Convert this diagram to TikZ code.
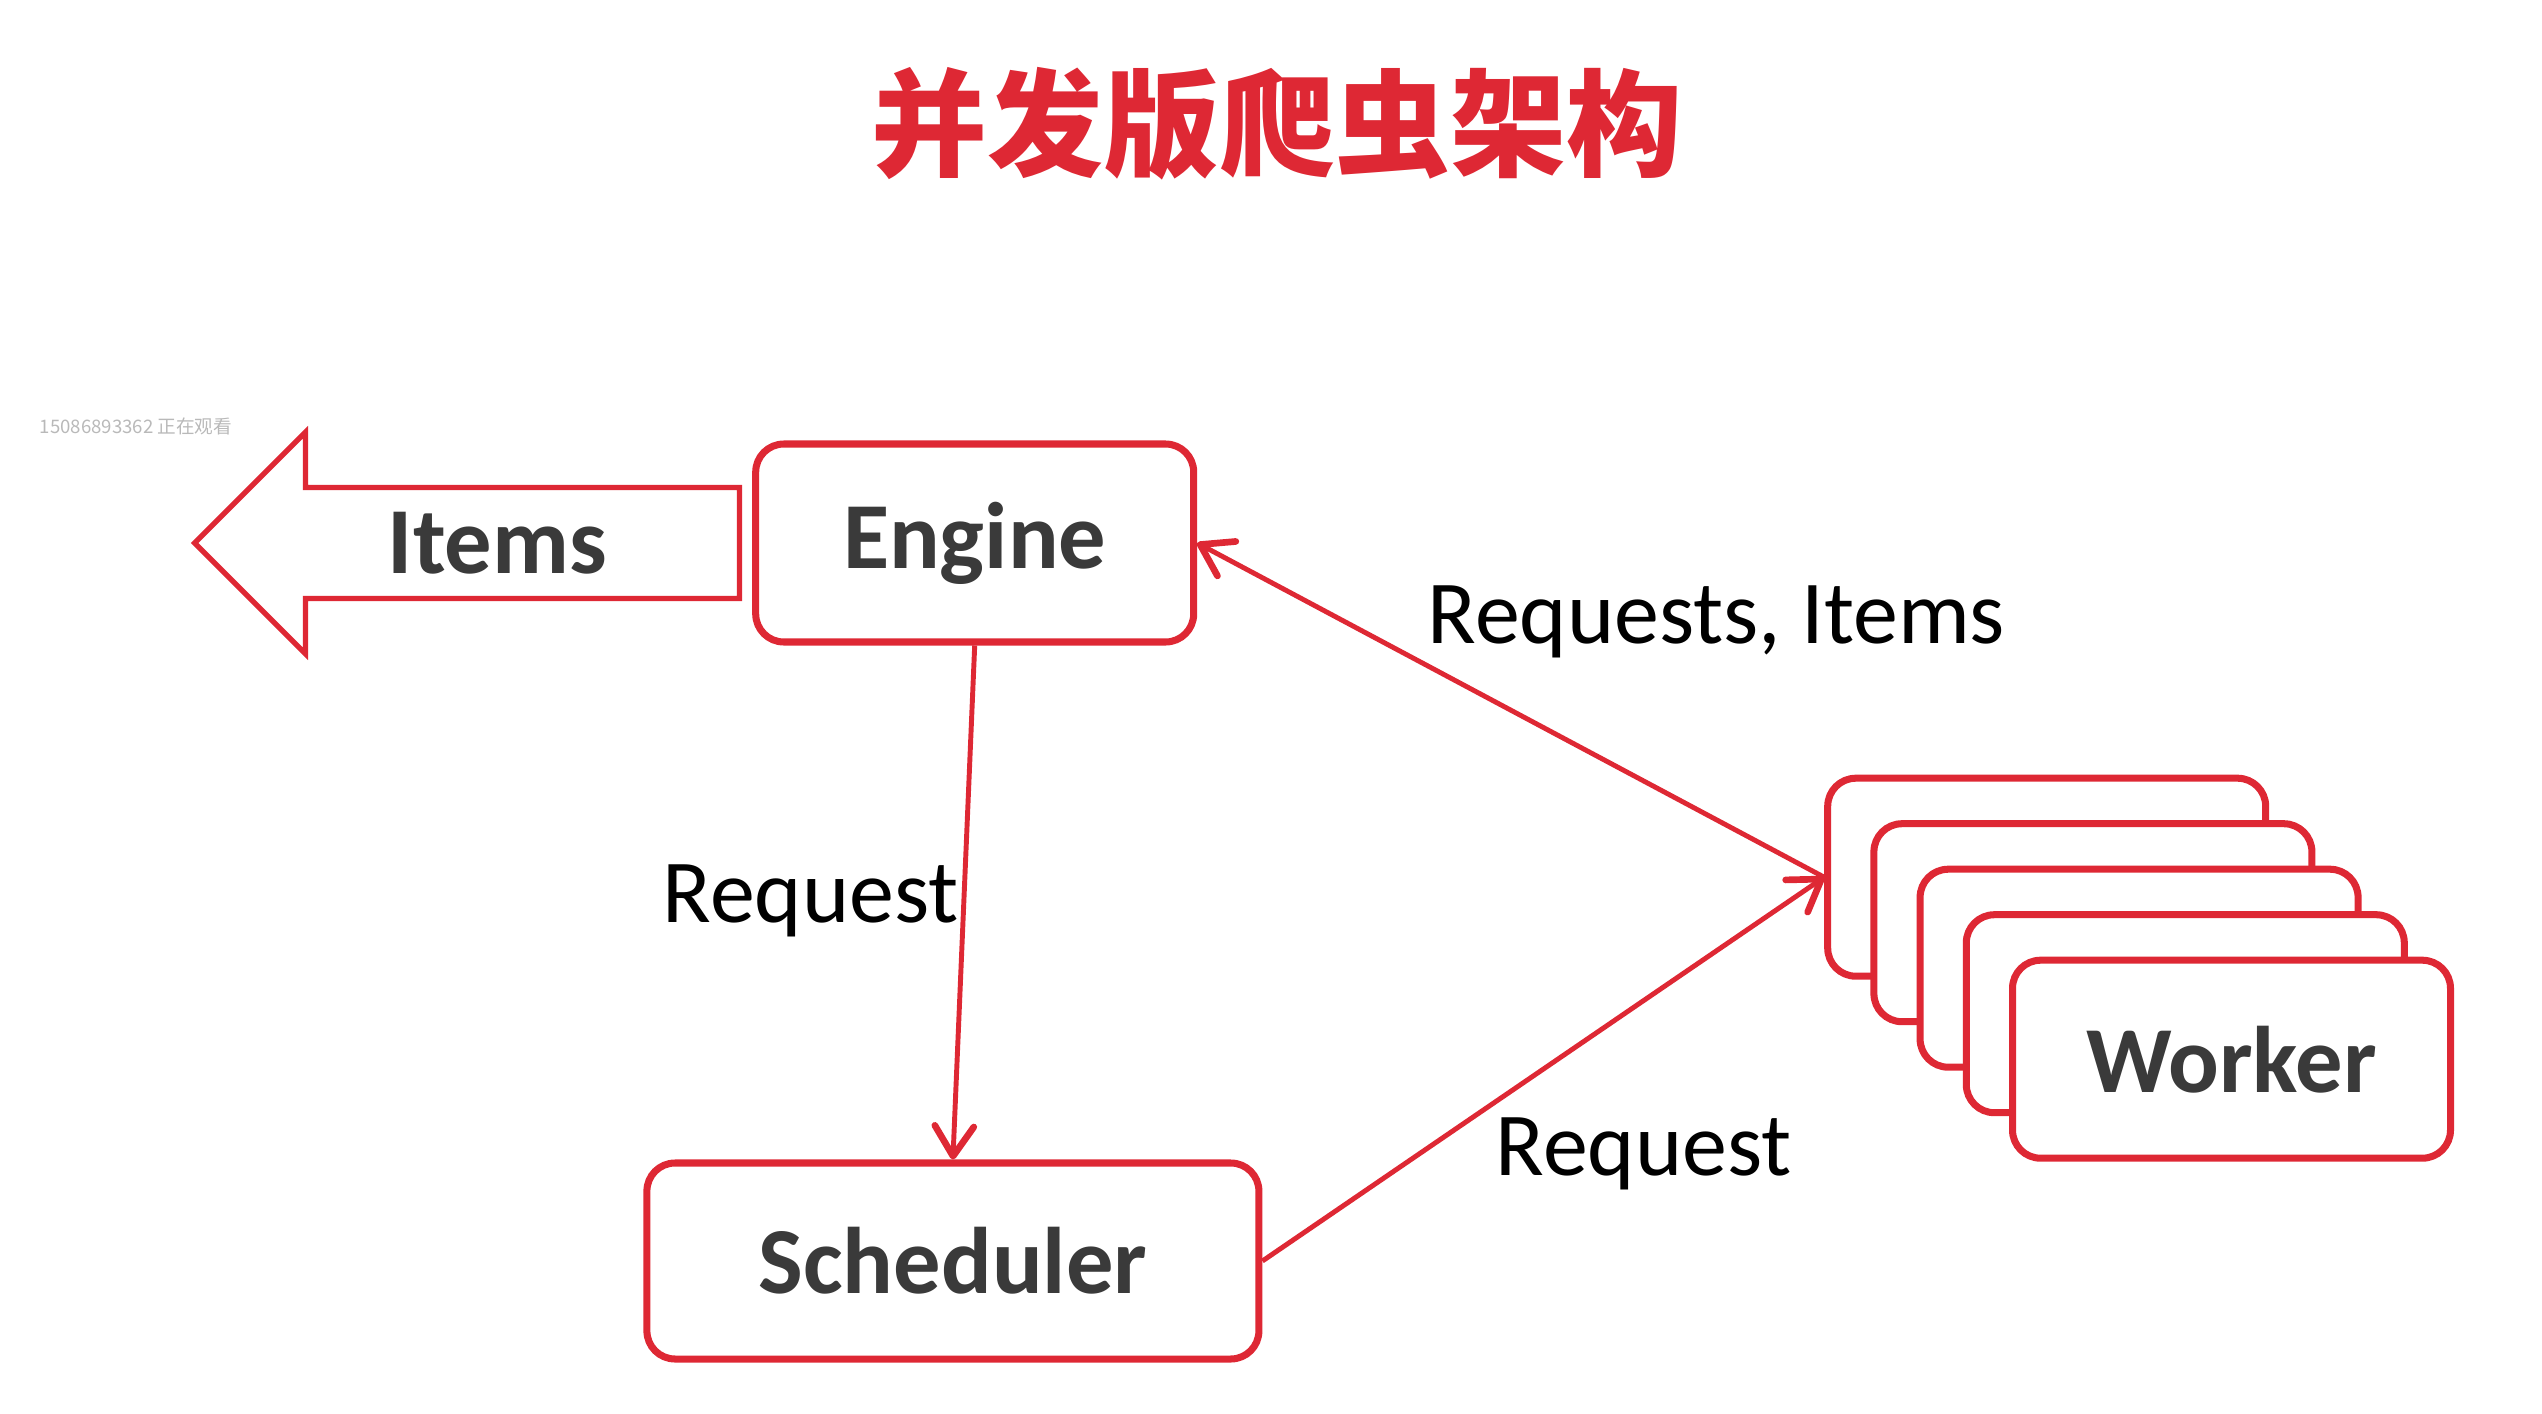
\documentclass[tikz,border=0pt]{standalone}
\usepackage{fontspec}
\setmainfont{Carlito}
\newfontfamily\cjk{Noto Sans CJK SC}
\usetikzlibrary{arrows.meta}
\definecolor{rosso}{RGB}{222,40,52}
\definecolor{grigio}{RGB}{58,58,58}

\begin{document}
\begin{tikzpicture}[
    box/.style={rectangle, draw=rosso, line width=2pt, fill=white, text=grigio, font=\fontsize{26.9}{30}\selectfont\bfseries, minimum width=4.38cm, minimum height=1.98cm, rounded corners=8pt},
    lbl/.style={font=\fontsize{25.6}{28}\selectfont, text=black, inner sep=0pt},
    arrow/.style={-{Straight Barb[length=3mm,width=3.9mm,line width=1.9pt,round]}, draw=rosso, line width=1.4pt}
]
\useasboundingbox (0,0) rectangle (25.42,-14.14);

% Titolo
\node[font=\cjk\bfseries\fontsize{33}{36}\selectfont, text=rosso] (title) at (12.77,-1.24) {并发版爬虫架构};
\node[font=\cjk\fontsize{5.3}{6}\selectfont, text=gray!55, anchor=west, inner sep=0pt] (viewer) at (0.39,-4.26) {15086893362 正在观看};

% Componenti principali
\node[box] (engine) at (9.747,-5.43) {Engine};
\node[box, minimum width=6.12cm, minimum height=1.96cm] (scheduler) at (9.529,-12.61) {Scheduler};

% Pila dei worker
\node[box] (worker1) at (20.467,-8.772) {};
\node[box] (worker2) at (20.929,-9.227) {};
\node[box] (worker3) at (21.391,-9.682) {};
\node[box] (worker4) at (21.853,-10.137) {};
\node[box] (worker5) at (22.315,-10.592) {Worker};

% Freccia Items
\draw[rosso, line width=1.5pt, fill=white] (engine.west) ++(-0.127,0.554) -- ++(-4.34,0) -- ++(0,0.554) -- ++(-1.108,-1.108) -- ++(1.108,-1.108) -- ++(0,0.554) -- ++(4.34,0) -- cycle;
\node[font=\fontsize{26.9}{30}\selectfont\bfseries, text=grigio] (items) at (4.975,-5.43) {Items};

% Connessioni
\draw[arrow] (engine.south) -- (scheduler.north);
\draw[arrow] (worker1.west) -- (engine.east);
\draw[arrow] (scheduler.east) -- (worker1.west);

% Etichette delle connessioni
\node[lbl, anchor=base west] (reqleft) at (6.62,-9.22) {Request};
\node[lbl, anchor=base west] (reqitems) at (14.27,-6.43) {Requests, Items};
\node[lbl, anchor=base west] (reqright) at (14.95,-11.75) {Request};
\end{tikzpicture}
\end{document}
